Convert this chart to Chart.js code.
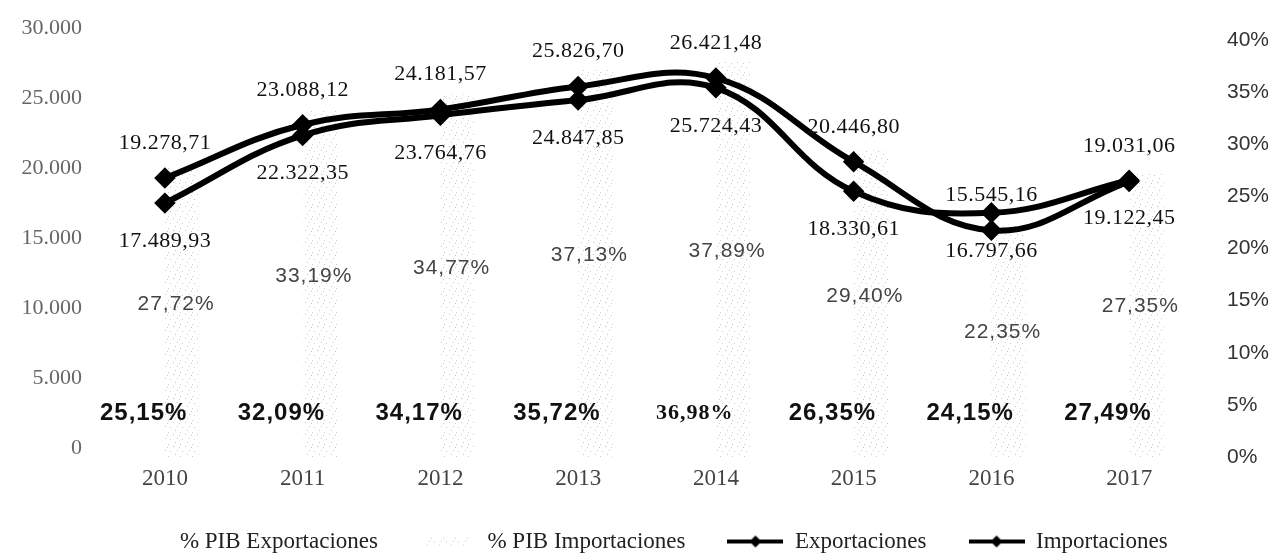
<!DOCTYPE html>
<html>
<head>
<meta charset="utf-8">
<title>Exportaciones e Importaciones 2010-2017</title>
<script src="https://cdn.jsdelivr.net/npm/chart.js@4.4.1/dist/chart.umd.min.js"></script>
<style>
  html, body { margin: 0; padding: 0; background: #ffffff; }
  #wrap { width: 1280px; height: 559px; position: relative; }
</style>
</head>
<body>
<div id="wrap"><canvas id="chart" width="1280" height="559"></canvas></div>
<script>
// Años
const years = ['2010', '2011', '2012', '2013', '2014', '2015', '2016', '2017'];

// Millones de USD
const exportaciones = [17489.93, 22322.35, 23764.76, 24847.85, 25724.43, 18330.61, 16797.66, 19122.45];
const importaciones = [19278.71, 23088.12, 24181.57, 25826.70, 26421.48, 20446.80, 15545.16, 19031.06];

// Porcentaje del PIB
const pibExportaciones = [25.15, 32.09, 34.17, 35.72, 36.98, 26.35, 24.15, 27.49];
const pibImportaciones = [27.72, 33.19, 34.77, 37.13, 37.89, 29.40, 22.35, 27.35];

// Marcas de los ejes
const montoTicks = [0, 5000, 10000, 15000, 20000, 25000, 30000];
const pctTicks = [0, 5, 10, 15, 20, 25, 30, 35, 40];

// Rango de cada eje (el eje de montos arranca algo por debajo de cero,
// el de porcentajes termina algo por encima del 40 %)
const montoMin = -646, montoMax = 30000;
const pctMin = 0, pctMax = 41.16;

const SERIF = '"Liberation Serif", "DejaVu Serif", serif';
const SANS = '"Liberation Sans", Arial, sans-serif';

function fmtMonto(v) {
  const [ent, dec] = v.toFixed(2).split('.');
  return ent.replace(/\B(?=(\d{3})+(?!\d))/g, '.') + ',' + dec;
}
function fmtMiles(v) {
  return String(v).replace(/\B(?=(\d{3})+(?!\d))/g, '.');
}
function fmtPct(v) {
  return v.toFixed(2).replace('.', ',') + '%';
}

// Textura punteada muy clara para las barras de importaciones
function dotTile() {
  const c = document.createElement('canvas');
  c.width = 12; c.height = 12;
  const g = c.getContext('2d');
  g.fillStyle = 'rgba(120,120,120,0.4)';
  [[0,0],[5,2],[9,6],[2,7],[7,10],[11,3]].forEach(([x, y]) => g.fillRect(x, y, 1, 1));
  return c;
}

const canvas = document.getElementById('chart');
const ctx = canvas.getContext('2d');
const dotPattern = ctx.createPattern(dotTile(), 'repeat');

// Muestras de la leyenda
function swatchBlank() {
  const c = document.createElement('canvas');
  c.width = 56; c.height = 14;
  return c;
}
function swatchDots() {
  const c = document.createElement('canvas');
  c.width = 56; c.height = 14;
  const g = c.getContext('2d');
  g.fillStyle = g.createPattern(dotTile(), 'repeat');
  g.fillRect(6, 3, 44, 8);
  return c;
}
function swatchLine() {
  const c = document.createElement('canvas');
  c.width = 56; c.height = 16;
  const g = c.getContext('2d');
  g.strokeStyle = '#000';
  g.lineWidth = 4;
  g.beginPath(); g.moveTo(0, 8); g.lineTo(56, 8); g.stroke();
  g.fillStyle = '#000';
  g.beginPath(); g.moveTo(28, 2); g.lineTo(34, 8); g.lineTo(28, 14); g.lineTo(22, 8); g.closePath(); g.fill();
  return c;
}

// Etiquetas de valores sobre barras y puntos
const valueLabels = {
  id: 'valueLabels',
  afterDatasetsDraw(chart) {
    const c = chart.ctx;
    c.save();
    c.textAlign = 'center';
    c.textBaseline = 'middle';

    const barsExp = chart.getDatasetMeta(0).data;
    const barsImp = chart.getDatasetMeta(1).data;
    const ptsExp = chart.getDatasetMeta(2).data;
    const ptsImp = chart.getDatasetMeta(3).data;

    // % PIB Importaciones: en el centro de la barra
    c.fillStyle = '#444';
    c.font = '21px ' + SANS;
    if ('letterSpacing' in c) c.letterSpacing = '1px';
    barsImp.forEach((b, i) => {
      c.fillText(fmtPct(pibImportaciones[i]), b.x - 6, (b.y + b.base) / 2 - 8);
    });

    // % PIB Exportaciones: junto a la base
    c.fillStyle = '#111';
    if ('letterSpacing' in c) c.letterSpacing = '1px';
    barsExp.forEach((b, i) => {
      c.font = years[i] === '2014' ? 'bold 22px ' + SERIF : 'bold 24px ' + SANS;
      c.fillText(fmtPct(pibExportaciones[i]), b.x - 4, b.base - 44);
    });

    // Montos: importaciones arriba, exportaciones abajo
    if ('letterSpacing' in c) c.letterSpacing = '0.5px';
    c.font = '22px ' + SERIF;
    c.fillStyle = '#111';
    ptsImp.forEach((p, i) => c.fillText(fmtMonto(importaciones[i]), p.x, p.y - 35));
    ptsExp.forEach((p, i) => c.fillText(fmtMonto(exportaciones[i]), p.x, p.y + 38));
    c.restore();
  }
};

const legendSwatches = [swatchBlank(), swatchDots(), swatchLine(), swatchLine()];

const lineStyle = {
  type: 'line',
  yAxisID: 'yL',
  borderColor: '#000',
  borderWidth: 6,
  backgroundColor: '#000',
  pointStyle: 'rectRot',
  pointRadius: 6.5,
  pointBackgroundColor: '#000',
  pointBorderColor: '#000',
  tension: 0.4,
  fill: false
};

// Ancho fijo de los ejes verticales, sin reservar margen extra arriba/abajo
function fixVertical(width) {
  return function (s) {
    s.width = width;
    s.paddingTop = 12;
    s.paddingBottom = 12;
  };
}

new Chart(canvas, {
  data: {
    labels: years,
    datasets: [
      {
        type: 'bar',
        label: '% PIB Exportaciones',
        data: pibExportaciones,
        yAxisID: 'yR',
        backgroundColor: 'rgba(255,255,255,0)',
        borderWidth: 0,
        categoryPercentage: 0.5,
        barPercentage: 1.0,
        order: 2
      },
      {
        type: 'bar',
        label: '% PIB Importaciones',
        data: pibImportaciones,
        yAxisID: 'yR',
        backgroundColor: dotPattern,
        borderWidth: 0,
        categoryPercentage: 0.5,
        barPercentage: 1.0,
        order: 2
      },
      Object.assign({}, lineStyle, { label: 'Exportaciones', data: exportaciones, order: 1 }),
      Object.assign({}, lineStyle, { label: 'Importaciones', data: importaciones, order: 0 })
    ]
  },
  options: {
    responsive: false,
    animation: false,
    devicePixelRatio: 1,
    layout: { padding: { top: 28, left: 0, right: 0, bottom: -4 } },
    plugins: {
      tooltip: { enabled: false },
      legend: {
        position: 'bottom',
        labels: {
          usePointStyle: true,
          pointStyleWidth: 56,
          padding: 42,
          color: '#222',
          font: { family: SERIF, size: 23 },
          generateLabels(chart) {
            return chart.data.datasets.map((ds, i) => ({
              text: ds.label,
              pointStyle: legendSwatches[i],
              fillStyle: '#000',
              strokeStyle: '#000',
              lineWidth: 0,
              hidden: false,
              datasetIndex: i,
              fontColor: '#222'
            }));
          }
        }
      }
    },
    scales: {
      x: {
        grid: { display: false, drawTicks: false },
        border: { display: false },
        ticks: { color: '#444', font: { family: SERIF, size: 23 }, padding: 8 },
        afterFit(s) { s.height = 31; }
      },
      yL: {
        position: 'left',
        min: montoMin,
        max: montoMax,
        grid: { display: false, drawTicks: false },
        border: { display: false },
        afterBuildTicks(s) { s.ticks = montoTicks.map(v => ({ value: v })); },
        ticks: {
          color: '#666',
          font: { family: SERIF, size: 22 },
          padding: 14,
          callback: v => fmtMiles(v)
        },
        afterFit: fixVertical(96)
      },
      yR: {
        position: 'right',
        min: pctMin,
        max: pctMax,
        grid: { display: false, drawTicks: false },
        border: { display: false },
        afterBuildTicks(s) { s.ticks = pctTicks.map(v => ({ value: v })); },
        ticks: {
          color: '#333',
          font: { family: SANS, size: 21 },
          padding: 29,
          callback: v => v + '%'
        },
        afterFit: fixVertical(82)
      }
    }
  },
  plugins: [valueLabels]
});
</script>
</body>
</html>
